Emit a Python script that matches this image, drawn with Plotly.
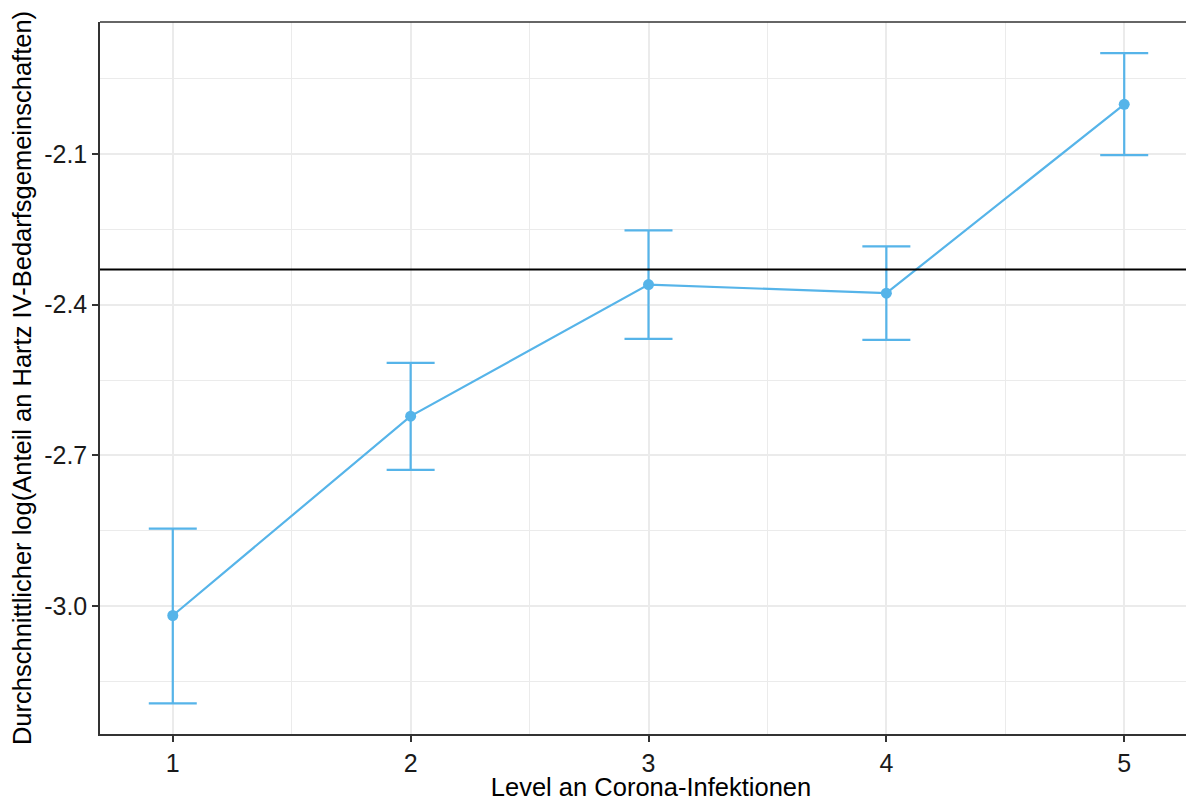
import plotly.graph_objects as go

levels = [1, 2, 3, 4, 5]
means = [-3.019, -2.622, -2.360, -2.377, -2.001]
upper = [-2.846, -2.516, -2.252, -2.284, -1.899]
lower = [-3.194, -2.729, -2.468, -2.470, -2.102]
ref_line = -2.330
y_ticks = [-2.1, -2.4, -2.7, -3.0]
y_tick_labels = ["-2.1", "-2.4", "-2.7", "-3.0"]
y_minor = [-1.95, -2.25, -2.55, -2.85, -3.15]
x_minor = [1.5, 2.5, 3.5, 4.5]

err_plus = [u - m for u, m in zip(upper, means)]
err_minus = [m - l for m, l in zip(means, lower)]

color = "#56B4E9"
font = "Liberation Sans, Arial, sans-serif"

fig = go.Figure()
fig.add_trace(go.Scatter(
    x=levels, y=means, mode="lines+markers",
    line=dict(color=color, width=2.2),
    marker=dict(color=color, size=11),
    error_y=dict(type="data", symmetric=False, array=err_plus, arrayminus=err_minus,
                 color=color, thickness=2.2, width=24),
    showlegend=False,
))
fig.add_hline(y=ref_line, line=dict(color="black", width=2), layer="above")
fig.add_shape(type="line", xref="paper", yref="paper", x0=0, x1=1, y0=1, y1=1,
              line=dict(color="#333333", width=1.5))

fig.update_layout(
    width=1194, height=793,
    margin=dict(l=92, r=0, t=14, b=67, autoexpand=False),
    paper_bgcolor="white", plot_bgcolor="white",
    font=dict(family=font, size=24, color="black"),
    xaxis=dict(
        range=[0.694, 5.327], tickvals=levels, ticktext=[str(v) for v in levels],
        showgrid=True, gridcolor="#EBEBEB", gridwidth=2,
        minor=dict(tickvals=x_minor, showgrid=True, gridcolor="#EBEBEB", gridwidth=1, ticks=""),
        showline=True, linecolor="#333333", linewidth=1.5,
        ticks="outside", ticklen=6, tickcolor="#333333", tickwidth=1.5,
        tickfont=dict(size=25, color="#1a1a1a"),
        title=dict(text="Level an Corona-Infektionen", font=dict(size=25.5), standoff=0),
        zeroline=False, automargin=False,
    ),
    yaxis=dict(
        range=[-3.255, -1.837], tickvals=y_ticks, ticktext=y_tick_labels,
        showgrid=True, gridcolor="#EBEBEB", gridwidth=2,
        minor=dict(tickvals=y_minor, showgrid=True, gridcolor="#EBEBEB", gridwidth=1, ticks=""),
        showline=True, linecolor="#333333", linewidth=1.5,
        ticks="outside", ticklen=6, tickcolor="#333333", tickwidth=1.5,
        tickfont=dict(size=25, color="#1a1a1a"),
        title=dict(text="Durchschnittlicher log(Anteil an Hartz IV-Bedarfsgemeinschaften)",
                   font=dict(size=25.5), standoff=6),
        zeroline=False, automargin=False,
    ),
)

fig.write_html("out.html")
